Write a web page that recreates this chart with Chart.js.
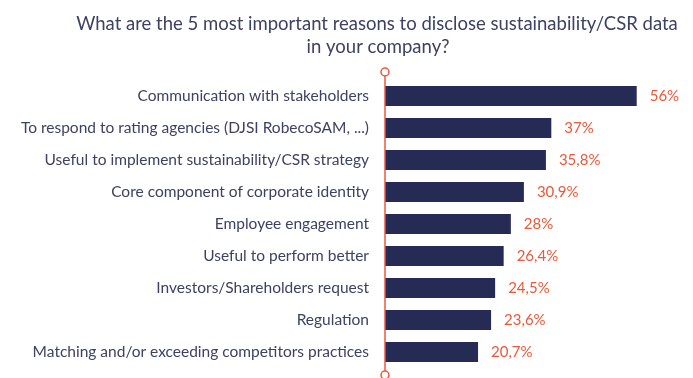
<!DOCTYPE html>
<html>
<head>
<meta charset="utf-8">
<script src="https://cdn.jsdelivr.net/npm/chart.js@4.4.1/dist/chart.umd.min.js"></script>
<style>
  html, body { margin: 0; padding: 0; background: #ffffff; }
  #wrap { position: relative; width: 693px; height: 378px; }
</style>
</head>
<body>
<div id="wrap"><canvas id="c" width="693" height="378"></canvas></div>
<script>
const titleLines = [
  "What are the 5 most important reasons to disclose sustainability/CSR data",
  "in your company?"
];
const categories = [
  "Communication with stakeholders",
  "To respond to rating agencies (DJSI RobecoSAM, ...)",
  "Useful to implement sustainability/CSR strategy",
  "Core component of corporate identity",
  "Employee engagement",
  "Useful to perform better",
  "Investors/Shareholders request",
  "Regulation",
  "Matching and/or exceeding competitors practices"
];
const values = [56, 37, 35.8, 30.9, 28, 26.4, 24.5, 23.6, 20.7];

const NAVY = '#262b55';
const ORANGE = '#e8593b';
const TEXT = '#3d4263';
const FONT = 'Lato, "Open Sans", sans-serif';

const titlePlugin = {
  id: 'customTitle',
  afterDraw(chart) {
    const ctx = chart.ctx;
    ctx.save();
    ctx.fillStyle = TEXT;
    ctx.font = '400 18.5px ' + FONT;
    ctx.textAlign = 'center';
    ctx.textBaseline = 'middle';
    ctx.fillText(titleLines[0], 377, 24);
    ctx.fillText(titleLines[1], 378, 47);
    ctx.restore();
  }
};

const axisPlugin = {
  id: 'axisLine',
  afterDatasetsDraw(chart) {
    const ctx = chart.ctx;
    const x = chart.chartArea.left;
    const yTop = chart.chartArea.top - 8;
    const yBot = chart.chartArea.bottom + 7;
    const r = 4;
    ctx.save();
    ctx.strokeStyle = ORANGE;
    ctx.lineWidth = 1.5;
    ctx.beginPath();
    ctx.moveTo(x, yTop + r);
    ctx.lineTo(x, yBot - r);
    ctx.stroke();
    [yTop, yBot].forEach(y => {
      ctx.beginPath();
      ctx.arc(x, y, r, 0, Math.PI * 2);
      ctx.fillStyle = '#ffffff';
      ctx.fill();
      ctx.stroke();
    });
    ctx.restore();
  }
};

const valueLabelPlugin = {
  id: 'valueLabels',
  afterDatasetsDraw(chart) {
    const ctx = chart.ctx;
    const meta = chart.getDatasetMeta(0);
    ctx.save();
    ctx.fillStyle = ORANGE;
    ctx.font = '15px ' + FONT;
    ctx.textAlign = 'left';
    ctx.textBaseline = 'middle';
    meta.data.forEach((bar, i) => {
      const v = chart.data.datasets[0].data[i];
      ctx.fillText(String(v).replace('.', ',') + '%', bar.x + 13, bar.y);
    });
    ctx.restore();
  }
};

new Chart(document.getElementById('c'), {
  type: 'bar',
  data: {
    labels: categories,
    datasets: [{
      data: values,
      backgroundColor: NAVY,
      borderWidth: 0,
      barPercentage: 0.625,
      categoryPercentage: 1.0
    }]
  },
  options: {
    indexAxis: 'y',
    responsive: false,
    animation: false,
    devicePixelRatio: 1,
    layout: { padding: { top: 80, bottom: 10, right: 41, left: 0 } },
    plugins: {
      legend: { display: false },
      title: { display: false },
      tooltip: { enabled: false }
    },
    scales: {
      x: {
        display: false,
        min: 0,
        max: 59.4
      },
      y: {
        afterFit(scale) {
          scale.width = 385;
          scale.paddingTop = 0;
          scale.paddingBottom = 0;
        },
        grid: { display: false, drawTicks: false },
        border: { display: false },
        ticks: {
          color: TEXT,
          padding: 16,
          font: { family: FONT, size: 15.5 }
        }
      }
    }
  },
  plugins: [titlePlugin, axisPlugin, valueLabelPlugin]
});
</script>
</body>
</html>
